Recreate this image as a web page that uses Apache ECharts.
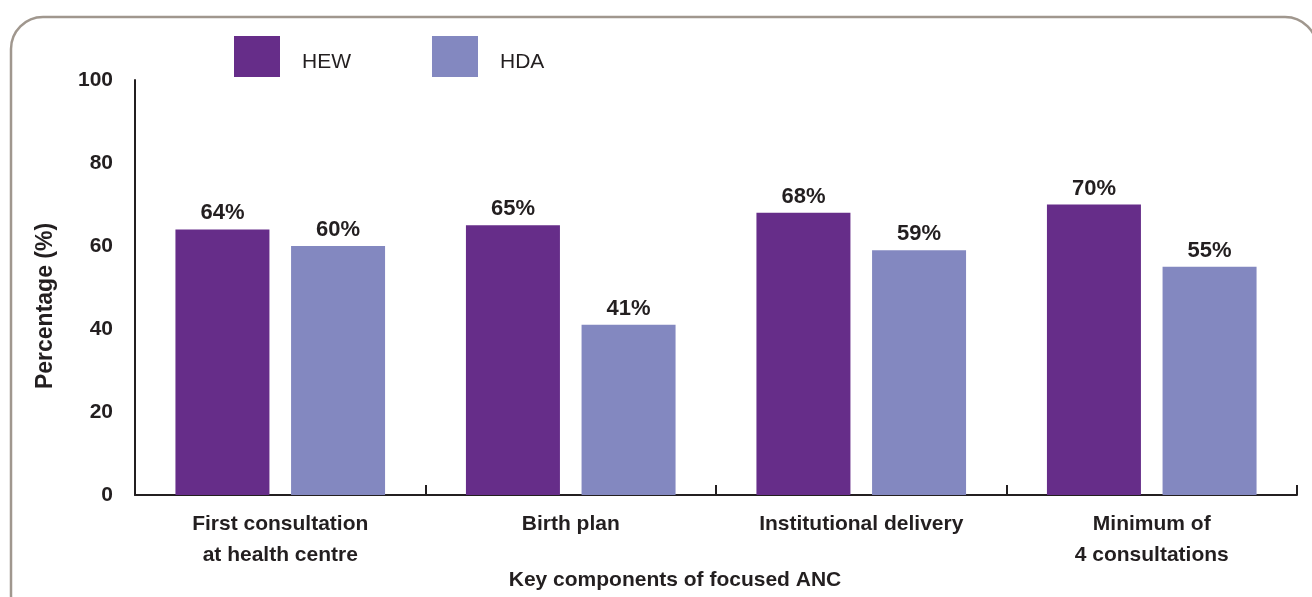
<!DOCTYPE html>
<html>
<head>
<meta charset="utf-8">
<script src="https://cdn.jsdelivr.net/npm/echarts@6/dist/echarts.min.js"></script>
<style>
  html, body { margin: 0; padding: 0; background: #ffffff; }
  #chart { width: 1312px; height: 597px; }
</style>
</head>
<body>
<div id="chart"></div>
<script>
// Focused ANC components: share reported by HEW and HDA
var categories = [
  'First consultation\nat health centre',
  'Birth plan',
  'Institutional delivery',
  'Minimum of\n4 consultations'
];
var hewValues = [64, 65, 68, 70];
var hdaValues = [60, 41, 59, 55];
var yTicks = [0, 20, 40, 60, 80, 100];

var FONT = '"Liberation Sans", Arial, sans-serif';
var INK = '#231f20';

var chart = echarts.init(document.getElementById('chart'), null, { renderer: 'canvas' });

var labelStyle = {
  show: true,
  position: 'top',
  distance: 5,
  formatter: '{c}%',
  fontFamily: FONT,
  fontWeight: 'bold',
  fontSize: 22,
  color: INK
};

chart.setOption({
  backgroundColor: '#ffffff',
  animation: false,
  graphic: [
    {
      type: 'rect',
      z: -10,
      shape: { x: 11, y: 17, width: 1306, height: 610, r: 32 },
      style: { fill: 'none', stroke: '#a0978e', lineWidth: 2.5 }
    },
    {
      // vertical axis title
      type: 'text',
      x: 46,
      y: 306,
      rotation: Math.PI / 2,
      style: {
        text: 'Percentage (%)',
        fontFamily: FONT,
        fontWeight: 'bold',
        fontSize: 23,
        fill: INK,
        align: 'center',
        verticalAlign: 'middle'
      }
    }
  ],
  title: {
    text: 'Key components of focused ANC',
    left: 670,
    textAlign: 'center',
    top: 565,
    textStyle: { fontFamily: FONT, fontWeight: 'bold', fontSize: 21, color: INK }
  },
  legend: {
    left: 234,
    top: 36,
    padding: 0,
    itemWidth: 46,
    itemHeight: 41,
    itemGap: 81,
    icon: 'rect',
    formatter: '{t|{name}}',
    textStyle: {
      fontFamily: FONT,
      fontSize: 21,
      color: INK,
      padding: [0, 0, 0, 17],
      rich: {
        t: { fontFamily: FONT, fontSize: 21, color: INK, padding: [12, 0, 0, 0] }
      }
    },
    data: ['HEW', 'HDA']
  },
  grid: { left: 135, right: 15, top: 80, bottom: 102, containLabel: false },
  xAxis: {
    type: 'category',
    data: categories,
    axisLine: { show: true, lineStyle: { color: INK, width: 2 } },
    axisTick: { show: true, inside: true, length: 10, lineStyle: { color: INK, width: 2 } },
    axisLabel: {
      margin: 14,
      lineHeight: 31,
      fontFamily: FONT,
      fontWeight: 'bold',
      fontSize: 21,
      color: INK,
      interval: 0
    },
    splitLine: { show: false }
  },
  yAxis: {
    type: 'value',
    min: yTicks[0],
    max: yTicks[yTicks.length - 1],
    interval: 20,
    axisLine: { show: true, lineStyle: { color: INK, width: 2 } },
    axisTick: { show: false },
    axisLabel: {
      margin: 22,
      fontFamily: FONT,
      fontWeight: 'bold',
      fontSize: 21,
      color: INK
    },
    splitLine: { show: false }
  },
  series: [
    {
      name: 'HEW',
      type: 'bar',
      data: hewValues,
      barWidth: 94,
      barGap: '23%',
      itemStyle: { color: '#662d89' },
      label: labelStyle
    },
    {
      name: 'HDA',
      type: 'bar',
      data: hdaValues,
      barWidth: 94,
      itemStyle: { color: '#8388c0' },
      label: labelStyle
    }
  ]
});
</script>
</body>
</html>
